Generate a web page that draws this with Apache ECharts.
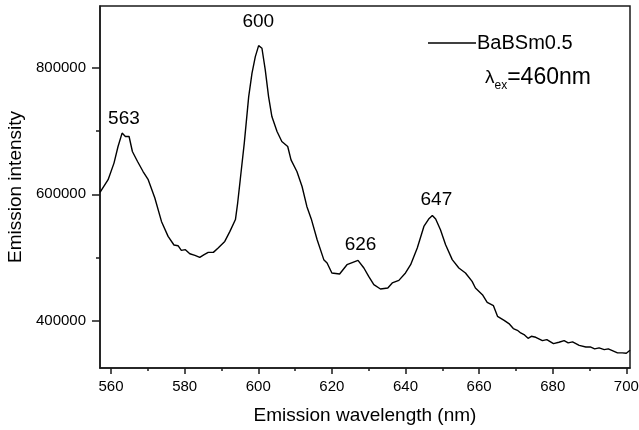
<!DOCTYPE html>
<html>
<head>
<meta charset="utf-8">
<script src="https://cdn.jsdelivr.net/npm/echarts@6/dist/echarts.min.js"></script>
<style>
html,body{margin:0;padding:0;background:#fff;}
#chart{width:639px;height:430px;}
</style>
</head>
<body>
<div id="chart"></div>
<script>
// Emission wavelength (nm)
var wavelength = [557.0,559.2,560.8,561.9,563.0,563.9,564.9,565.8,567.2,568.7,570.1,571.9,573.7,575.5,577.1,578.2,579.1,580.2,581.4,582.8,584.1,585.3,586.4,587.8,589.1,590.9,592.3,593.8,594.4,595.1,596.2,597.4,598.3,599.2,600.1,601.0,601.9,602.8,603.7,605.1,606.4,608.0,608.9,610.5,611.9,613.2,614.4,616.0,617.8,618.7,620.0,622.1,624.1,625.7,627.1,628.7,630.0,631.4,633.2,635.2,636.4,638.2,640.0,641.4,643.2,645.0,646.3,647.3,648.2,649.5,650.9,652.7,654.5,656.3,658.1,659.0,660.9,662.2,663.9,665.0,666.8,668.1,669.3,670.4,671.3,672.2,673.3,674.2,675.4,677.2,678.4,680.2,681.7,683.1,684.2,685.4,687.2,689.0,690.2,691.4,692.6,694.0,695.1,696.2,697.6,698.9,700.0,701.0];
// Emission intensity
var intensity = [603000,623000,649300,675600,696800,691400,691400,667700,651900,636000,623000,594000,557000,533300,519700,518600,511200,512300,505900,503300,500100,504400,508000,508000,515000,525400,541200,560000,586100,622900,681000,754600,791600,817900,835300,831100,796800,754600,723000,699300,683500,675600,654500,636000,612300,580700,561000,528100,496500,491200,475400,473800,488500,492200,495300,483300,470000,456900,450100,451700,459600,463700,475400,488500,515000,549100,560800,566500,560800,543900,520200,496500,483300,475400,462100,451700,441100,428900,423700,406800,400500,395300,387400,384700,380500,377900,372000,375200,373600,368400,370000,363600,365700,368400,364800,366300,360800,358300,358300,355300,356800,354100,355300,352600,348900,348900,348400,353100];

var xMajorTicks = [560,580,600,620,640,660,680,700];
var xMinorTicks = [570,590,610,630,650,670,690];
var yMajorTicks = [400000,600000,800000];
var yMinorTicks = [500000,700000];

var seriesName = 'BaBSm0.5';
var peakLabels = ['563','600','626','647'];
var peakLabelX = [563.5,600.0,627.8,648.4];
var peakLabelY = [720000,872800,520600,591800];

var xMin = 557, xMax = 701;
var yMin = 325000, yMax = 898000;

var FONT = '"Liberation Sans", Arial, sans-serif';
var INK = '#000';
var AX = '#1a1a1a';

var lineData = wavelength.map(function(w,i){return [w,intensity[i]];});
var mpData = peakLabels.map(function(t,i){
  return {coord:[peakLabelX[i],peakLabelY[i]], value:t};
});

var chart = echarts.init(document.getElementById('chart'), null, {renderer:'canvas'});
chart.setOption({
  animation:false,
  backgroundColor:'#fff',
  textStyle:{fontFamily:FONT},
  grid:{left:100,right:9,top:6,bottom:62,containLabel:false,outerBoundsMode:'none',
    show:true,borderColor:AX,borderWidth:1.5,backgroundColor:'transparent'},
  legend:{
    data:[{name:seriesName,icon:'rect'}],
    left:428, top:33, padding:0,
    itemWidth:48, itemHeight:1.4,
    itemStyle:{color:'#000'},
    textStyle:{fontFamily:FONT,fontSize:20,color:INK,padding:[0,0,0,-4]}
  },
  xAxis:[{
    type:'value', min:xMin, max:xMax,
    axisLine:{show:true,onZero:false,lineStyle:{color:AX,width:1.5}},
    axisTick:{show:true,inside:false,length:6,customValues:xMajorTicks,lineStyle:{color:AX,width:1.5}},
    axisLabel:{show:true,customValues:xMajorTicks,fontSize:15,color:INK,margin:11,fontFamily:FONT},
    splitLine:{show:false},
    name:'Emission wavelength (nm)', nameLocation:'middle', nameGap:38,
    nameTextStyle:{fontSize:19,color:INK,fontFamily:FONT}
  },{
    type:'value', min:xMin, max:xMax, position:'bottom',
    axisLine:{show:false},
    axisTick:{show:true,inside:false,length:3,customValues:xMinorTicks,lineStyle:{color:AX,width:1.5}},
    axisLabel:{show:false},
    splitLine:{show:false}
  }],
  yAxis:[{
    type:'value', min:yMin, max:yMax,
    axisLine:{show:true,onZero:false,lineStyle:{color:AX,width:1.5}},
    axisTick:{show:true,inside:false,length:8,customValues:yMajorTicks,lineStyle:{color:AX,width:1.5}},
    axisLabel:{show:true,customValues:yMajorTicks,fontSize:15,color:INK,margin:14,fontFamily:FONT,
      formatter:function(v){return String(Math.round(v));}},
    splitLine:{show:false},
    name:'Emission intensity', nameLocation:'middle', nameGap:74, nameRotate:90,
    nameTextStyle:{fontSize:19,color:INK,fontFamily:FONT}
  },{
    type:'value', min:yMin, max:yMax, position:'left',
    axisLine:{show:false},
    axisTick:{show:true,inside:false,length:4,customValues:yMinorTicks,lineStyle:{color:AX,width:1.5}},
    axisLabel:{show:false},
    splitLine:{show:false}
  }],
  series:[{
    name:seriesName,
    type:'line',
    data:lineData,
    xAxisIndex:0, yAxisIndex:0,
    symbol:'none', showSymbol:false,
    lineStyle:{color:'#000',width:1.4},
    itemStyle:{color:'#000'},
    markPoint:{
      symbol:'circle', symbolSize:0,
      label:{show:true,position:'inside',formatter:function(p){return p.data.value;},fontSize:19,color:INK,fontFamily:FONT},
      data:mpData
    }
  }],
  graphic:[{
    type:'text', left:485, top:66,
    style:{
      text:'{l|λ}{s|ex}{n|=460nm}',
      rich:{
        l:{fontSize:19,fontFamily:FONT,fill:INK,verticalAlign:'middle'},
        s:{fontSize:12,fontFamily:FONT,fill:INK,padding:[17,0,0,0]},
        n:{fontSize:23,fontFamily:FONT,fill:INK}
      }
    }
  }]
});
</script>
</body>
</html>
